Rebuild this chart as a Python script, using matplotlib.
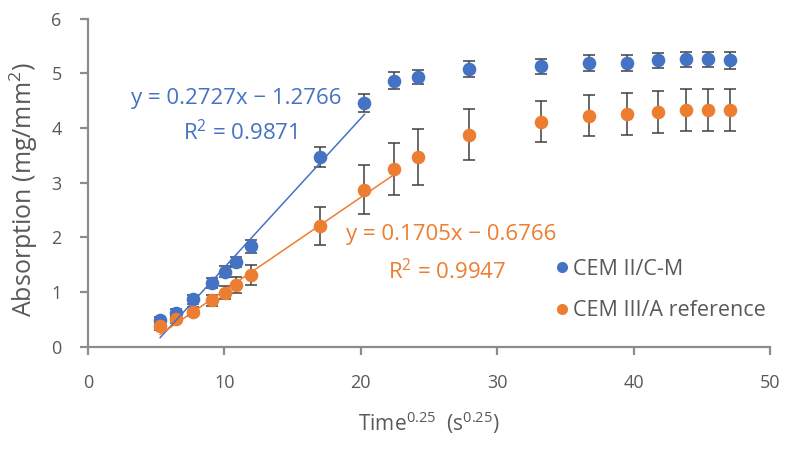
import matplotlib

matplotlib.use("Agg")
import matplotlib.pyplot as plt
from matplotlib.lines import Line2D
import numpy as np

# time^0.25 (s^0.25), shared by both cements
time_q = [5.29, 6.45, 7.67, 9.10, 10.02, 10.86, 11.96, 17.0, 20.27, 22.45,
          24.17, 27.92, 33.24, 36.74, 39.49, 41.76, 43.85, 45.49, 47.08]

cem2_abs = [0.49, 0.62, 0.87, 1.17, 1.37, 1.55, 1.84, 3.47, 4.46, 4.87,
            4.94, 5.08, 5.13, 5.19, 5.19, 5.24, 5.26, 5.26, 5.24]
cem2_err = [0.06, 0.07, 0.08, 0.09, 0.10, 0.10, 0.12, 0.18, 0.16, 0.15,
            0.13, 0.14, 0.14, 0.14, 0.14, 0.14, 0.14, 0.14, 0.15]

cem3_abs = [0.37, 0.50, 0.64, 0.85, 0.99, 1.13, 1.31, 2.21, 2.87, 3.25,
            3.47, 3.88, 4.12, 4.23, 4.26, 4.29, 4.33, 4.33, 4.33]
cem3_err = [0.06, 0.07, 0.08, 0.10, 0.12, 0.15, 0.18, 0.34, 0.45, 0.48,
            0.52, 0.47, 0.38, 0.37, 0.38, 0.38, 0.39, 0.39, 0.39]

# linear fits as reported on the chart: slope, intercept, r2, points used
cem2_fit = (0.2727, -1.2766, 0.9871, 9)
cem3_fit = (0.1705, -0.6766, 0.9947, 10)

labels = ["CEM II/C-M", "CEM III/A reference"]
BLUE = "#4472C4"
ORANGE = "#ED7D31"
GRAY = "#595959"
AXIS = "#8C8C8C"
ERR = "#404040"

plt.rcParams["font.family"] = ["Open Sans", "DejaVu Sans"]
plt.rcParams["mathtext.default"] = "regular"

fig = plt.figure(figsize=(7.93, 4.58), dpi=100)
ax = fig.add_axes([0.111, 0.243, 0.860, 0.716])

x = np.array(time_q)
series = [
    (cem2_abs, cem2_err, cem2_fit, BLUE),
    (cem3_abs, cem3_err, cem3_fit, ORANGE),
]
for vals, err, fit, color in series:
    ax.errorbar(x, vals, yerr=err, fmt="none", ecolor=ERR, elinewidth=1.1,
                capsize=4.5, capthick=1.1, zorder=2)
    ax.plot(x, vals, "o", color=color, markersize=9.8, markeredgewidth=0,
            zorder=3)
    slope, icept, r2, n = fit
    xf = np.array([x[0], x[n - 1]])
    ax.plot(xf, slope * xf + icept, color=color, linewidth=1.1, zorder=4)

eq_kw = dict(transform=ax.transAxes, ha="center", va="center", fontsize=16)
ax.text(0.218, 0.758, "y = 0.2727x \u2212 1.2766", color=BLUE, **eq_kw)
ax.text(0.223, 0.652, "R$^2$ = 0.9871", color=BLUE, **eq_kw)
ax.text(0.533, 0.341, "y = 0.1705x \u2212 0.6766", color=ORANGE, **eq_kw)
ax.text(0.527, 0.230, "R$^2$ = 0.9947", color=ORANGE, **eq_kw)

ax.set_xlim(0, 50)
ax.set_ylim(0, 6)
ax.set_xticks(np.arange(0, 51, 10))
ax.set_yticks(np.arange(0, 7, 1))
for side in ("top", "right"):
    ax.spines[side].set_visible(False)
for side in ("left", "bottom"):
    ax.spines[side].set_color(AXIS)
    ax.spines[side].set_linewidth(1.6)
ax.tick_params(axis="both", colors=AXIS, width=1.6, length=6,
               labelcolor=GRAY, labelsize=13)
ax.tick_params(axis="x", pad=14)
ax.tick_params(axis="y", pad=13)

ax.set_xlabel("Time$^{0.25}$  (s$^{0.25}$)", color=GRAY, fontsize=15,
              labelpad=12)
ax.set_ylabel("Absorption (mg/mm$^2$)", color=GRAY, fontsize=18)
ax.yaxis.set_label_coords(-0.071, 0.48)

handles = [Line2D([], [], linestyle="none", marker="o", markersize=8,
                  markeredgewidth=0, color=c) for c in (BLUE, ORANGE)]
leg = ax.legend(handles, labels, loc="center left",
                bbox_to_anchor=(0.700, 0.367), bbox_transform=fig.transFigure,
                frameon=False, fontsize=15.5, handlelength=0.6,
                handletextpad=0.25, labelspacing=0.95, borderpad=0,
                borderaxespad=0)
for text in leg.get_texts():
    text.set_color(GRAY)

fig.savefig("out.png", dpi=100)
